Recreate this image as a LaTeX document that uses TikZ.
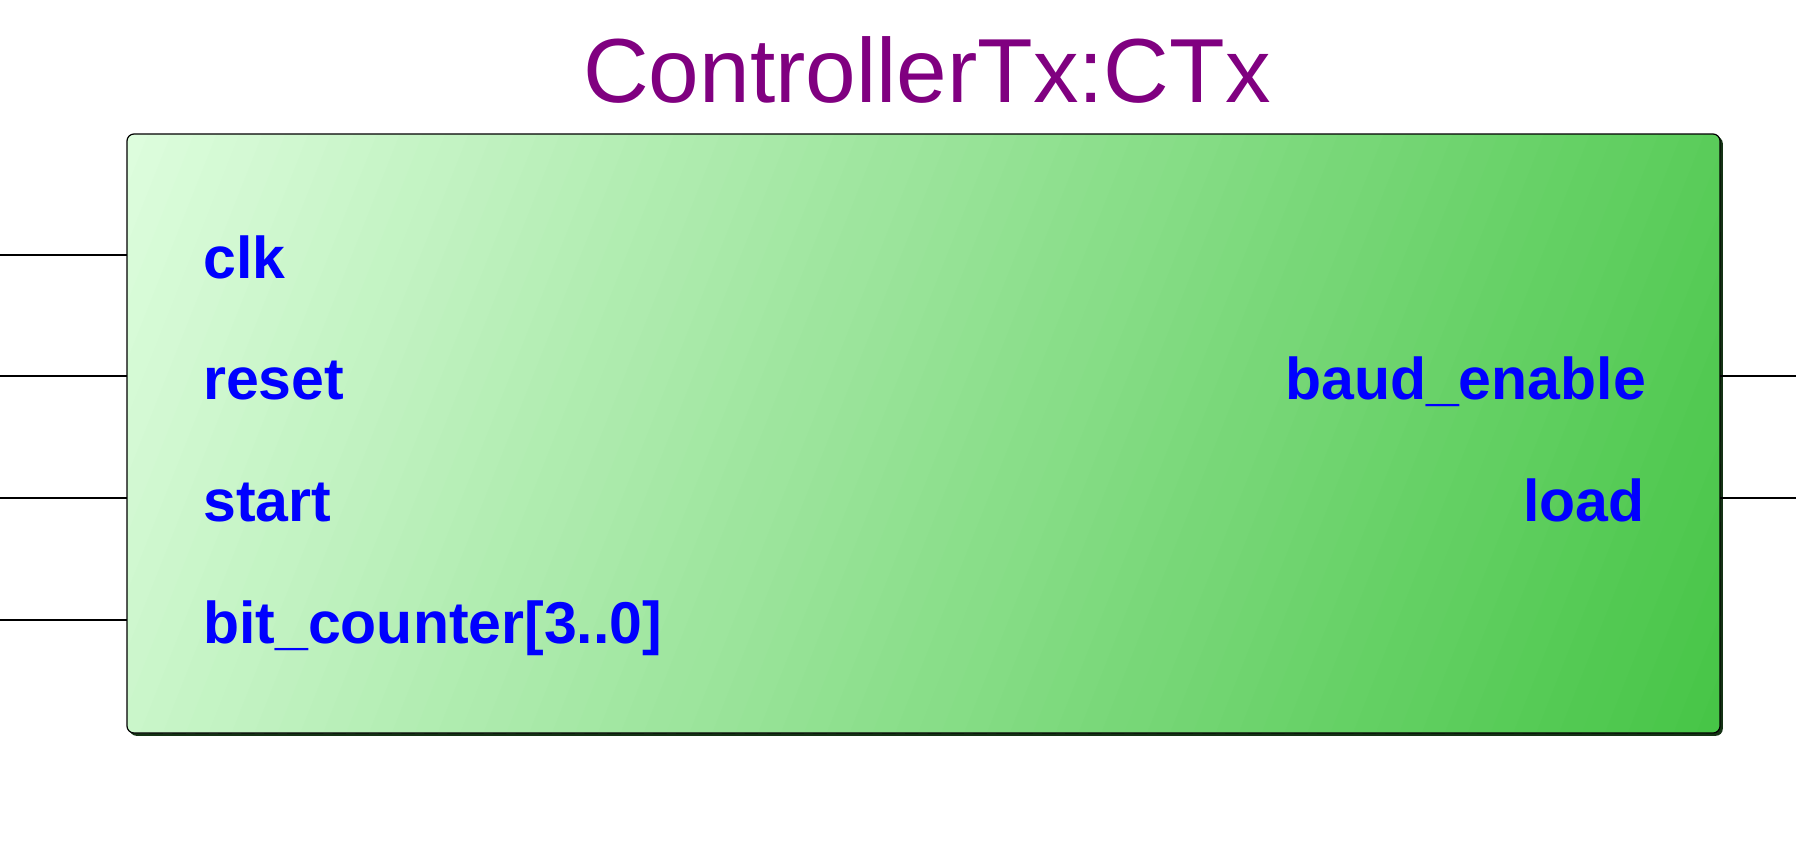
\documentclass[tikz,border=0pt]{standalone}
\usepackage{fontspec}
\setmainfont{Liberation Sans}
\definecolor{titlepurple}{RGB}{128,0,128}
\definecolor{pinblue}{RGB}{0,0,255}
\definecolor{gradlight}{RGB}{222,253,222}
\definecolor{graddark}{RGB}{70,197,70}
\definecolor{shadowgreen}{RGB}{20,50,20}
\begin{document}
\begin{tikzpicture}[x=1pt,y=-1pt,
  pinlabel/.style={inner sep=0pt, text=pinblue, font=\fontsize{59}{59}\selectfont\bfseries},
  pinwire/.style={line width=1.5pt, black},
  titlestyle/.style={inner sep=0pt, text=titlepurple, font=\fontsize{91}{91}\selectfont}]
\useasboundingbox (0,0) rectangle (1796,841);
% shadow
\fill[shadowgreen, rounded corners=7pt] (129.5,136.5) rectangle (1722.8,735.8);
% body gradient
\begin{scope}
\clip[rounded corners=7pt] (127,134) rectangle (1720,733);
\foreach \i in {0,...,79}{
  \pgfmathsetmacro{\sa}{\i/80}
  \pgfmathsetmacro{\sb}{(\i+1.4)/80}
  \pgfmathsetmacro{\pc}{(\i+0.5)/80*100}
  \fill[graddark!\pc!gradlight] (127+1831*\sa,130) -- (127+1831*\sb,130)
     -- (127+1831*\sb-240,737) -- (127+1831*\sa-240,737) -- cycle;
}
\end{scope}
\draw[line width=1.2pt, black, rounded corners=7pt] (127,134) rectangle (1720,733);
\node[draw=none, minimum width=1593pt, minimum height=599pt, inner sep=0pt] (box) at (923.5,433.5) {};
% title
\node[titlestyle, anchor=base] (title) at (927,102) {ControllerTx:CTx};
% left pins
\coordinate (lclk) at (0,255);
\coordinate (lreset) at (0,376);
\coordinate (lstart) at (0,498);
\coordinate (lbit) at (0,620);
\coordinate (bclk) at (127,255);
\coordinate (breset) at (127,376);
\coordinate (bstart) at (127,498);
\coordinate (bbit) at (127,620);
\draw[pinwire] (lclk) -- (bclk);
\draw[pinwire] (lreset) -- (breset);
\draw[pinwire] (lstart) -- (bstart);
\draw[pinwire] (lbit) -- (bbit);
% right pins
\coordinate (bbaud) at (1720,376);
\coordinate (bload) at (1720,498);
\coordinate (rbaud) at (1796,376);
\coordinate (rload) at (1796,498);
\draw[pinwire] (bbaud) -- (rbaud);
\draw[pinwire] (bload) -- (rload);
% labels
\node[pinlabel, anchor=base west] (tclk) at (203,278) {clk};
\node[pinlabel, anchor=base west] (treset) at (203,399) {reset};
\node[pinlabel, anchor=base west] (tstart) at (203,521) {start};
\node[pinlabel, anchor=base west] (tbit) at (203,643) {bit\_counter[3..0]};
\node[pinlabel, anchor=base east] (tbaud) at (1646,399) {baud\_enable};
\node[pinlabel, anchor=base east] (tload) at (1645,521) {load};
\end{tikzpicture}
\end{document}
